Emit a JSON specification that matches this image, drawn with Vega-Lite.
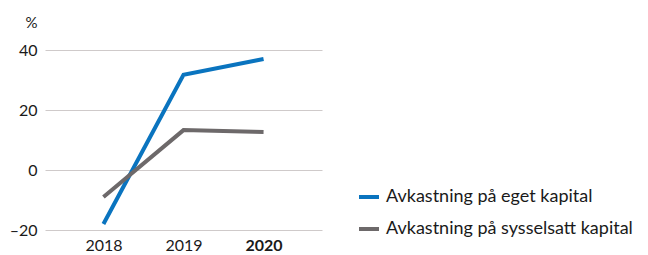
{
  "$schema": "https://vega.github.io/schema/vega-lite/v6.json",
  "width": 277,
  "height": 180,
  "autosize": {"type": "none"},
  "padding": {"left": 45, "top": 50, "right": 326, "bottom": 25},
  "config": {
    "view": {"stroke": null},
    "font": "Lato"
  },
  "data": {
    "values": [
      {"year": "2018", "series": "Avkastning på eget kapital", "value": -18},
      {"year": "2019", "series": "Avkastning på eget kapital", "value": 31.7},
      {"year": "2020", "series": "Avkastning på eget kapital", "value": 37},
      {"year": "2018", "series": "Avkastning på sysselsatt kapital", "value": -9},
      {"year": "2019", "series": "Avkastning på sysselsatt kapital", "value": 13.3},
      {"year": "2020", "series": "Avkastning på sysselsatt kapital", "value": 12.7}
    ]
  },
  "mark": {"type": "line", "strokeWidth": 4, "strokeCap": "butt"},
  "encoding": {
    "x": {
      "field": "year",
      "type": "ordinal",
      "scale": {"type": "point", "padding": 0.73},
      "axis": {
        "title": null,
        "domain": false,
        "ticks": false,
        "grid": false,
        "labelAngle": 0,
        "labelFontSize": 16,
        "labelColor": "#1a1a1a",
        "labelPadding": 7,
        "labelFontWeight": {"condition": {"test": "datum.value == '2020'", "value": "bold"}, "value": "normal"}
      }
    },
    "y": {
      "field": "value",
      "type": "quantitative",
      "scale": {"domain": [-20, 40], "nice": false},
      "axis": {
        "values": [-20, 0, 20, 40],
        "labelExpr": "replace(datum.label, '−', '–')",
        "title": "%",
        "titleAngle": 0,
        "titleX": -14,
        "titleY": -28,
        "titleAlign": "center",
        "titleBaseline": "middle",
        "titleFontWeight": "normal",
        "titleFontSize": 15,
        "titleColor": "#1a1a1a",
        "domain": false,
        "ticks": false,
        "labelFontSize": 16,
        "labelColor": "#1a1a1a",
        "labelPadding": 8,
        "gridColor": "#cfcaca",
        "gridWidth": 1
      }
    },
    "color": {
      "field": "series",
      "type": "nominal",
      "scale": {"domain": ["Avkastning på eget kapital", "Avkastning på sysselsatt kapital"], "range": ["#0a74bf", "#6d696a"]},
      "legend": {
        "title": null,
        "orient": "none",
        "legendX": 312,
        "legendY": 135,
        "symbolType": "stroke",
        "symbolStrokeWidth": 4,
        "symbolSize": 400,
        "labelFontSize": 18,
        "labelLimit": 0,
        "labelColor": "#1a1a1a",
        "rowPadding": 11,
        "labelOffset": 5
      }
    }
  }
}
